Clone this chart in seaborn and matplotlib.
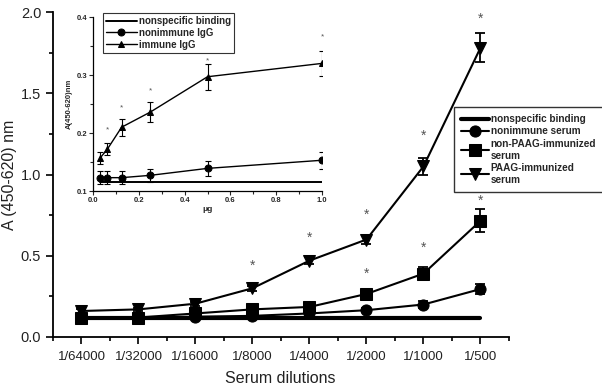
import numpy as np
import matplotlib
matplotlib.use("Agg")
import matplotlib.pyplot as plt
from matplotlib.ticker import MultipleLocator, FixedLocator
import seaborn as sns

# main panel data
dilutions = ["1/64000", "1/32000", "1/16000", "1/8000", "1/4000", "1/2000", "1/1000", "1/500"]
nonspecific = [0.115, 0.115, 0.115, 0.115, 0.115, 0.115, 0.115, 0.115]
nonimmune = [0.12, 0.12, 0.125, 0.13, 0.145, 0.165, 0.20, 0.295]
nonimmune_err = [0.01, 0.01, 0.01, 0.01, 0.01, 0.012, 0.02, 0.03]
non_paag = [0.12, 0.12, 0.145, 0.17, 0.185, 0.265, 0.39, 0.715]
non_paag_err = [0.01, 0.01, 0.01, 0.012, 0.02, 0.025, 0.04, 0.07]
paag = [0.16, 0.17, 0.205, 0.30, 0.47, 0.60, 1.05, 1.78]
paag_err = [0.01, 0.01, 0.012, 0.015, 0.02, 0.025, 0.05, 0.09]
star_idx = [3, 4, 5, 5, 6, 6, 7, 7]
star_y = [0.44, 0.61, 0.75, 0.39, 1.24, 0.55, 1.96, 0.84]

# inset data
ug = [0.03125, 0.0625, 0.125, 0.25, 0.5, 1.0]
ns_igg = [0.115, 0.115, 0.115, 0.115, 0.115, 0.115]
nonimm_igg = [0.123, 0.123, 0.123, 0.127, 0.139, 0.153]
nonimm_igg_err = [0.011, 0.011, 0.011, 0.011, 0.013, 0.015]
imm_igg = [0.157, 0.172, 0.21, 0.236, 0.297, 0.32]
imm_igg_err = [0.01, 0.01, 0.015, 0.017, 0.022, 0.022]
inset_star_x = [0.0625, 0.125, 0.25, 0.5, 1.0]
inset_star_y = [0.205, 0.244, 0.273, 0.325, 0.366]

sns.set_style("ticks")
plt.rcParams["font.family"] = ["Liberation Sans", "DejaVu Sans"]

fig = plt.figure(figsize=(6.02, 3.89), dpi=100)
ax = fig.add_axes([53 / 602, 1 - 337 / 389, 456 / 602, 325 / 389])

pos = np.arange(len(dilutions))
sns.lineplot(x=pos, y=nonspecific, ax=ax, color="black", lw=3, label="nonspecific binding")
series = [
    (nonimmune, nonimmune_err, "o", "nonimmune serum"),
    (non_paag, non_paag_err, "s", "non-PAAG-immunized\nserum"),
    (paag, paag_err, "v", "PAAG-immunized\nserum"),
]
for vals, err, mk, lab in series:
    sns.lineplot(x=pos, y=vals, ax=ax, color="black", lw=1.5, marker=mk,
                 markersize=8, markeredgecolor="black", label=lab)
    ax.errorbar(pos, vals, yerr=err, fmt="none", ecolor="black", elinewidth=1.3,
                capsize=3.5, capthick=1.3)

for i, y in zip(star_idx, star_y):
    ax.text(i, y, "*", ha="center", va="center", fontsize=10, color="#555555")

ax.set_xlim(-0.5, len(dilutions) - 0.5)
ax.set_ylim(0, 2.0)
ax.set_xticks(pos)
ax.set_xticklabels(dilutions, fontsize=9.5, color="#222222")
ax.xaxis.set_minor_locator(FixedLocator(np.arange(-0.5, len(dilutions), 1.0)))
ax.yaxis.set_major_locator(MultipleLocator(0.5))
ax.yaxis.set_minor_locator(MultipleLocator(0.25))
ax.set_yticklabels([f"{v:.1f}" for v in ax.get_yticks()], fontsize=10.5, color="#222222")
ax.tick_params(which="major", length=5, width=1.2, direction="out", color="black")
ax.tick_params(which="minor", length=3, width=1.2, direction="out", color="black")
ax.tick_params(axis="x", pad=5)
sns.despine(ax=ax)
for s in ["left", "bottom"]:
    ax.spines[s].set_linewidth(1.3)
    ax.spines[s].set_color("black")
ax.set_xlabel("Serum dilutions", fontsize=11.5, color="#222222")
ax.set_ylabel("A (450-620) nm", fontsize=11.5, color="#222222")
ax.xaxis.set_label_coords(0.498, -0.104)
ax.yaxis.set_label_coords(-0.079, 0.5)

leg = ax.legend(loc="upper left", bbox_to_anchor=(454 / 602, 1 - 107 / 389),
                bbox_transform=fig.transFigure, frameon=True, fancybox=False,
                borderaxespad=0, handlelength=2.8, handletextpad=0.15, borderpad=0.7,
                labelspacing=0.25, prop={"weight": "bold", "size": 7.2})
leg.get_frame().set_edgecolor("black")
leg.get_frame().set_linewidth(1.0)

# inset
ins = fig.add_axes([93 / 602, 1 - 191 / 389, 229 / 602, 174 / 389])
ins.patch.set_alpha(0)
sns.lineplot(x=ug, y=ns_igg, ax=ins, color="black", lw=1.4, label="nonspecific binding")
for vals, err, mk, lab in [(nonimm_igg, nonimm_igg_err, "o", "nonimmune IgG"),
                           (imm_igg, imm_igg_err, "^", "immune IgG")]:
    sns.lineplot(x=ug, y=vals, ax=ins, color="black", lw=1.0, marker=mk,
                 markersize=5, markeredgecolor="black", label=lab)
    ins.errorbar(ug, vals, yerr=err, fmt="none", ecolor="black", elinewidth=0.8,
                 capsize=2, capthick=0.8)
for x, y in zip(inset_star_x, inset_star_y):
    ins.text(x, y, "*", ha="center", va="center", fontsize=6, color="#555555")

ins.set_xlim(0, 1.0)
ins.set_ylim(0.1, 0.4)
ins.xaxis.set_major_locator(MultipleLocator(0.2))
ins.xaxis.set_minor_locator(MultipleLocator(0.1))
ins.yaxis.set_major_locator(MultipleLocator(0.1))
ins.yaxis.set_minor_locator(MultipleLocator(0.05))
ins.tick_params(which="major", length=3, width=0.8, direction="out", labelsize=5.5, pad=1)
ins.tick_params(which="minor", length=2, width=0.8, direction="out")
for lbl in ins.get_xticklabels() + ins.get_yticklabels():
    lbl.set_fontweight("bold")
sns.despine(ax=ins)
for s in ["left", "bottom"]:
    ins.spines[s].set_linewidth(0.9)
    ins.spines[s].set_color("black")
ins.set_xlabel("μg", fontsize=6, fontweight="bold", labelpad=2)
ins.set_ylabel("A(450-620)nm", fontsize=5.5, fontweight="bold", labelpad=3)

leg2 = ins.legend(loc="upper left", bbox_to_anchor=(103 / 602, 1 - 13 / 389),
                  bbox_transform=fig.transFigure, frameon=True, fancybox=False,
                  borderaxespad=0, handlelength=3.2, handletextpad=0.2, borderpad=0.3,
                  labelspacing=0.2, prop={"weight": "bold", "size": 7})
leg2.get_frame().set_edgecolor("#333333")
leg2.get_frame().set_linewidth(0.8)
leg2.get_frame().set_facecolor("white")
leg2.get_frame().set_alpha(1)

fig.savefig("out.png", dpi=100)
